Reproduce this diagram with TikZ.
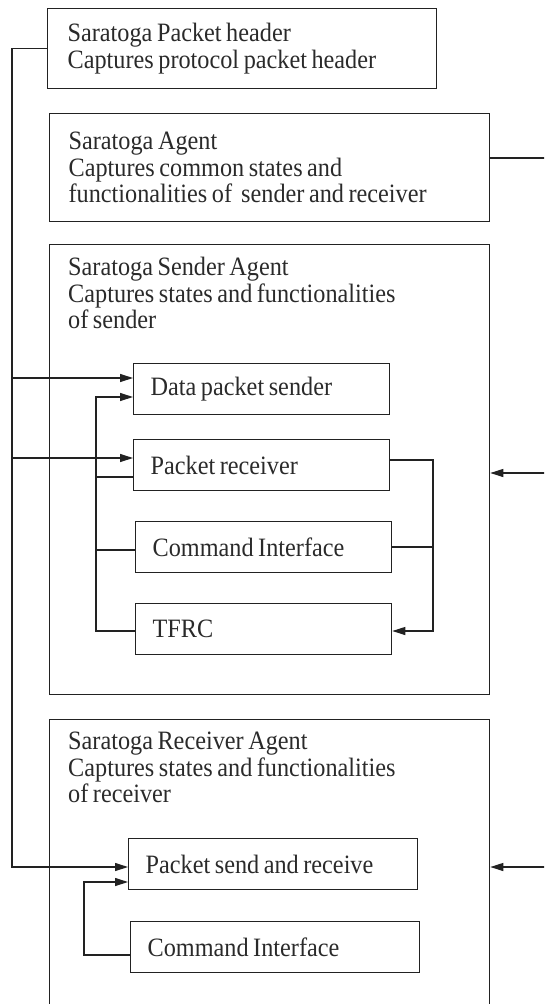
\documentclass[tikz,border=0pt]{standalone}
\usepackage{fontspec}
\setmainfont[FakeStretch=0.915,WordSpace=0.75]{Liberation Serif}
\usetikzlibrary{arrows.meta}
\definecolor{ink}{HTML}{222222}
\definecolor{txt}{HTML}{2A2A2A}
\begin{document}
\begin{tikzpicture}[x=1pt,y=-1pt,
  every node/.style={font=\fontsize{26.5}{26.5}\selectfont, text=txt, execute at begin node={\spaceskip=0pt\xspaceskip=0pt\relax}},
  bigbox/.style={draw=ink, line width=1.3pt, anchor=north west, inner ysep=0pt, align=left},
  inbox/.style={draw=ink, line width=1.3pt, anchor=north west, minimum height=51pt, inner xsep=17pt, inner ysep=0pt, align=left},
  title/.style={anchor=north west, inner sep=0pt, align=left},
  conn/.style={draw=ink, line width=1.2pt},
  arr/.style={conn, -{Triangle[length=13pt,width=8pt]}}]
\useasboundingbox (0,0) rectangle (544,1004);
\clip (0,0) rectangle (544,1004);
% outer boxes
\node[bigbox, minimum width=389pt, minimum height=80pt, inner xsep=20pt, text width=349pt] (hdr) at (47,8)
  {Saratoga Packet header\\Captures protocol packet header};
\node[bigbox, minimum width=440pt, minimum height=108pt, inner xsep=19pt, text width=402pt] (agent) at (49,113)
  {Saratoga Agent\\Captures common states and\\functionalities of\ \ sender and receiver};
\node[draw=ink, line width=1.3pt, anchor=north west, minimum width=440pt, minimum height=450pt, inner sep=0pt] (sender) at (49,244) {};
\node[title] (sendertitle) at (68,257) {Saratoga Sender Agent\\Captures states and functionalities\\of sender};
\node[draw=ink, line width=1.3pt, anchor=north west, minimum width=440pt, minimum height=300pt, inner sep=0pt] (receiver) at (49,719) {};
\node[title] (receivertitle) at (68,732) {Saratoga Receiver Agent\\Captures states and functionalities\\of receiver};
% inner boxes
\node[inbox, minimum width=256pt, text width=222pt] (dps) at (133,363) {Data packet sender};
\node[inbox, minimum width=256pt, text width=222pt] (prx) at (133,439) {Packet receiver};
\node[inbox, minimum width=256pt, text width=222pt] (cmd1) at (135,521) {Command Interface};
\node[inbox, minimum width=256pt, text width=222pt] (tfrc) at (135,603) {TFRC};
\node[inbox, minimum width=289pt, text width=255pt] (psr) at (128,838) {Packet send and receive};
\node[inbox, minimum width=289pt, text width=255pt] (cmd2) at (130,921) {Command Interface};
% coordinates
\coordinate (bus) at (12,867);
\coordinate (j1) at (12,378);
\coordinate (j2) at (12,458);
\coordinate (s1) at (96,631);
\coordinate (s2) at (96,397);
\coordinate (s3) at (96,477);
\coordinate (s4) at (96,550);
\coordinate (r1) at (433,460);
\coordinate (r2) at (433,631);
\coordinate (r3) at (433,547);
\coordinate (q1) at (84,955);
\coordinate (q2) at (84,882);
\coordinate (eA) at (548,158);
\coordinate (eS) at (548,473);
\coordinate (eR) at (548,867);
% left bus from header
\draw[arr] (hdr.west) -| (bus) -- (psr.west |- bus);
\draw[arr] (j1) -- (dps.west |- j1);
\draw[arr] (j2) -- (prx.west |- j2);
% sender internal
\draw[arr] (tfrc.west |- s1) -- (s1) -- (s2) -- (dps.west |- s2);
\draw[conn] (prx.west |- s3) -- (s3);
\draw[conn] (cmd1.west |- s4) -- (s4);
\draw[arr] (prx.east |- r1) -- (r1) -- (r2) -- (tfrc.east |- r2);
\draw[conn] (cmd1.east |- r3) -- (r3);
% receiver internal
\draw[arr] (cmd2.west |- q1) -- (q1) -- (q2) -- (psr.west |- q2);
% right side
\draw[conn] (agent.east |- eA) -- (eA);
\draw[arr] (eS) -- (sender.east |- eS);
\draw[arr] (eR) -- (receiver.east |- eR);
\end{tikzpicture}
\end{document}
